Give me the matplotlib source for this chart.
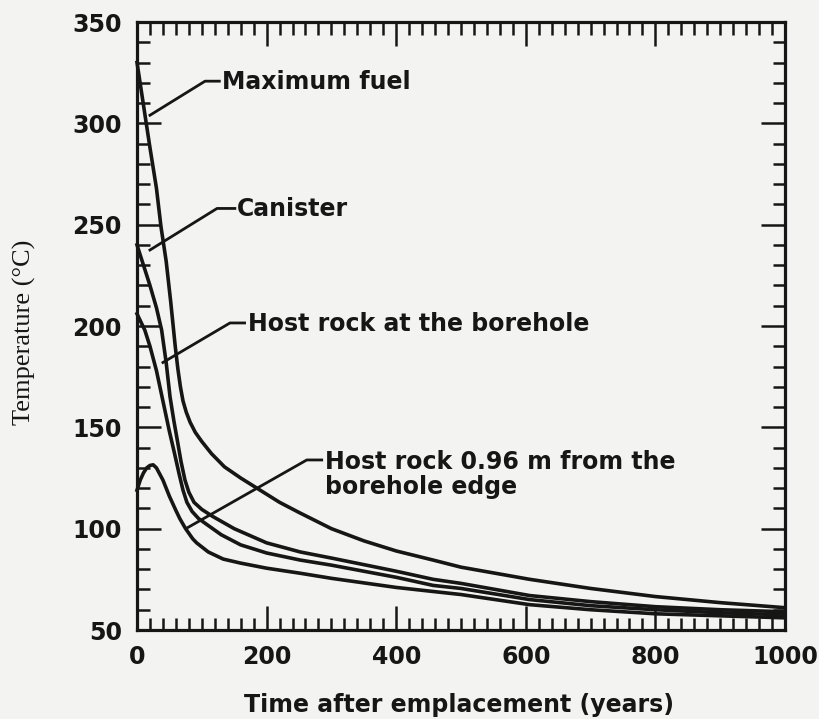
import matplotlib
matplotlib.use("Agg")
import matplotlib.pyplot as plt
from matplotlib.ticker import MultipleLocator

# time after emplacement (years) and temperatures (deg C)
t_fuel = [0, 10, 20, 30, 37, 45, 52, 59, 63, 67, 71, 76, 82, 90, 100, 115, 135, 160,
          185, 220, 250, 300, 350, 400, 457, 500, 606, 700, 800, 900, 1000]
T_fuel = [330, 309, 288, 268, 249, 232, 212, 190, 179, 170, 163, 157.5, 152.5, 147.5,
          143, 137, 130.5, 125, 120, 113, 108, 100, 94, 89, 84.5, 81, 75, 70.5, 66.5,
          63.5, 61]

t_can = [0, 10, 20, 30, 38, 45, 51, 57, 62, 68, 74, 80, 88, 100, 117, 150, 200, 252,
         300, 400, 457, 500, 606, 700, 800, 900, 1000]
T_can = [240, 230, 220, 209, 198, 182, 165, 153, 144, 133, 124, 118, 113, 109.5, 106,
         100, 93, 88.5, 85.5, 79, 75, 73, 67, 64, 61.5, 60, 59]

t_rock = [0, 12, 20, 30, 40, 50, 58, 65, 71, 77, 85, 95, 108, 130, 160, 200, 252, 300,
          400, 457, 500, 606, 700, 800, 900, 1000]
T_rock = [206, 198, 190, 178, 163, 148, 137, 127, 119, 113, 108.5, 105, 102, 97, 92,
          88, 84.5, 82, 76, 72, 70.5, 65, 62, 60, 58.5, 57.5]

t_far = [0, 5, 10, 15, 20, 25, 30, 40, 50, 60, 66, 75, 86, 92, 110, 133, 160, 200,
         252, 300, 400, 457, 500, 606, 700, 800, 900, 1000]
T_far = [119, 124, 127.5, 130, 131.2, 131.5, 130, 124, 116, 109, 105, 100, 95, 93,
         88.5, 85, 83, 80.5, 78, 75.5, 71, 69, 67.5, 62.5, 60, 58, 57, 56]

labels = ["Maximum fuel", "Canister", "Host rock at the borehole",
          "Host rock 0.96 m from the\nborehole edge"]
xticks = [0, 200, 400, 600, 800, 1000]
yticks = [50, 100, 150, 200, 250, 300, 350]

ink = "#161616"
bg = "#f3f3f1"
sans = "DejaVu Sans"

fig = plt.figure(figsize=(8.19, 7.19), dpi=100, facecolor=bg)
ax = fig.add_axes([137 / 819, 1 - 630 / 719, 648 / 819, 608 / 719], facecolor=bg)

for tt, TT in [(t_fuel, T_fuel), (t_can, T_can), (t_rock, T_rock), (t_far, T_far)]:
    ax.plot(tt, TT, color=ink, lw=2.6, solid_joinstyle="round", clip_on=False)

ax.set_xlim(0, 1000)
ax.set_ylim(50, 350)
ax.set_xticks(xticks)
ax.set_yticks(yticks)
ax.xaxis.set_minor_locator(MultipleLocator(20))
ax.yaxis.set_minor_locator(MultipleLocator(10))
ax.tick_params(which="both", direction="in", top=True, right=True,
               color=ink, width=1.8)
ax.tick_params(which="major", length=17, pad=11, labelsize=17, labelcolor=ink)
ax.tick_params(which="minor", length=9)
for lab in ax.get_xticklabels() + ax.get_yticklabels():
    lab.set_fontfamily(sans)
    lab.set_fontweight("bold")
for sp in ax.spines.values():
    sp.set_linewidth(2.3)
    sp.set_color(ink)

txt = dict(fontsize=17, fontweight="bold", family=sans, color=ink,
           va="center", ha="left")
lw_lead = 2.0

# leader lines: curve point -> elbow -> text start
ax.plot([20, 105, 127], [304, 320.8, 320.8], color=ink, lw=lw_lead)
ax.text(131, 320.5, labels[0], **txt)

ax.plot([20, 123.5, 151], [237.5, 258, 258], color=ink, lw=lw_lead)
ax.text(154, 257.5, labels[1], **txt)

ax.plot([40, 143.5, 166], [182, 201.5, 201.5], color=ink, lw=lw_lead)
ax.text(171, 201, labels[2], **txt)

ax.plot([77, 262, 285], [100.3, 133.9, 133.9], color=ink, lw=lw_lead)
ax.text(290, 126.5, labels[3], linespacing=1.05, **txt)

fig.text(459 / 819, 1 - 705 / 719, "Time after emplacement (years)", fontsize=17,
         fontweight="bold", family=sans, color=ink, ha="center", va="center")
fig.text(24 / 819, 1 - 332 / 719, "Temperature (\u00b0C)", fontsize=19,
         family="Liberation Serif", color=ink, ha="center", va="center",
         rotation=90)

fig.savefig("out.png", dpi=100, facecolor=bg)
